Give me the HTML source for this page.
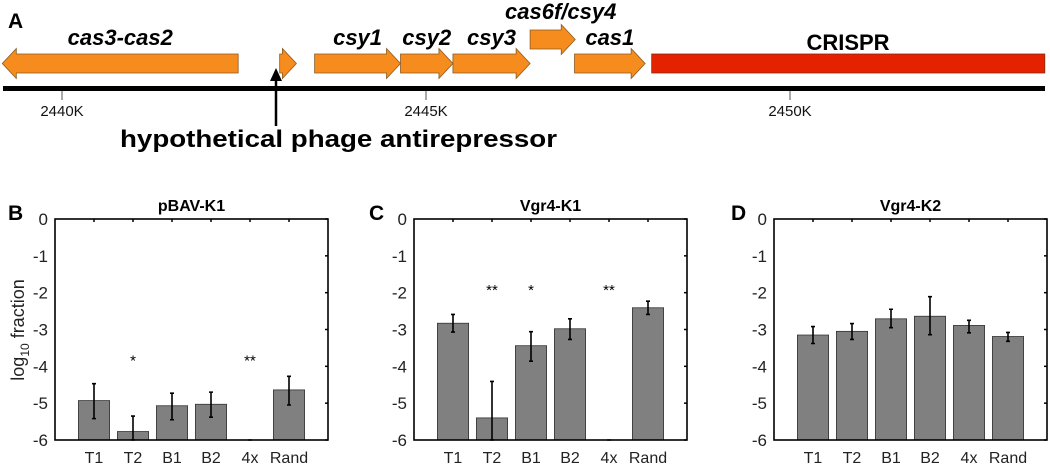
<!DOCTYPE html>
<html><head><meta charset="utf-8"><style>
html,body{margin:0;padding:0;background:#fff;}
svg{display:block;font-family:"Liberation Sans",Arial,sans-serif;}
</style></head><body>
<svg id="fig" width="1050" height="465" viewBox="0 0 1050 465" xmlns="http://www.w3.org/2000/svg">
<g id="panelA">
  <text x="8" y="28" font-size="21" font-weight="bold">A</text>
  <rect x="3" y="86" width="1042" height="5" fill="#000"/>
</g>
<g id="panelB"></g>
<g id="panelC"></g>
<g id="panelD"></g>
</svg>
<script>
// ---- Gene map data (kb positions) ----
const genomeTicks = [2440, 2445, 2450];
const geneNames = ["cas3-cas2", "", "csy1", "csy2", "csy3", "cas6f/csy4", "cas1"];
const geneStart = [2439.18, 2442.99, 2443.47, 2444.65, 2445.37, 2446.43, 2447.04];
const geneEnd   = [2442.42, 2443.22, 2444.65, 2445.37, 2446.43, 2447.05, 2448.01];
const geneStrand = [-1, 1, 1, 1, 1, 1, 1];
const geneRow = [0, 0, 0, 0, 0, 1, 0];
const crisprStart = 2448.1, crisprEnd = 2453.5;

// ---- Bar chart data ----
const categories = ["T1","T2","B1","B2","4x","Rand"];
const yTicks = [0,-1,-2,-3,-4,-5,-6];
const bVals = [-4.93,-5.77,-5.07,-5.03,-6,-4.64];
const bHi   = [-4.47,-5.35,-4.73,-4.70,-6,-4.27];
const bLo   = [-5.42,-6.00,-5.45,-5.38,-6,-5.05];
const bStars = ["","*","","","**",""];
const cVals = [-2.83,-5.40,-3.44,-2.98,-6,-2.41];
const cHi   = [-2.59,-4.41,-3.06,-2.71,-6,-2.23];
const cLo   = [-3.07,-6.00,-3.86,-3.27,-6,-2.59];
const cStars = ["","**","*","","**",""];
const dVals = [-3.15,-3.05,-2.71,-2.64,-2.89,-3.19];
const dHi   = [-2.92,-2.84,-2.45,-2.11,-2.75,-3.08];
const dLo   = [-3.38,-3.27,-2.95,-3.14,-3.09,-3.32];
const dStars = ["","","","","",""];

const NS = "http://www.w3.org/2000/svg";
function mk(tag, attrs, parent){const e=document.createElementNS(NS,tag);for(const k in attrs)e.setAttribute(k,attrs[k]);parent.appendChild(e);return e;}

// gene map
const A = document.getElementById('panelA');
const gx = k => 62 + (k-2440)*72.8;
genomeTicks.forEach(t=>{
  const l = mk('line',{x1:gx(t),x2:gx(t),y1:91,y2:100,stroke:'#555','stroke-width':1},A);
  
  
  const tx = mk('text',{x:gx(t),y:116,'font-size':15,'text-anchor':'middle',fill:'#111'},A);
  tx.textContent = t+'K';
  
  
});
geneNames.forEach((n,i)=>{
  const x0=gx(geneStart[i]), x1=gx(geneEnd[i]);
  const yc = geneRow[i]===0 ? 63.5 : 39.5;
  const bh = 9.5, hh = 15, hl = 14;
  let pts;
  if(geneStrand[i]>0){
    const b=x1-hl;
    pts=[[x0,yc-bh],[b,yc-bh],[b,yc-hh],[x1,yc],[b,yc+hh],[b,yc+bh],[x0,yc+bh]];
  } else {
    const b=x0+hl;
    pts=[[x1,yc-bh],[b,yc-bh],[b,yc-hh],[x0,yc],[b,yc+hh],[b,yc+bh],[x1,yc+bh]];
  }
  const p = mk('polygon',{points:pts.map(q=>q.join(',')).join(' '),fill:'#f78c1e',stroke:'#8a5a20','stroke-width':0.8},A);
  
  
  if(n){
    const lx = geneRow[i]===1 ? (x0+x1)/2+8 : (x0+x1)/2;
    const ly = geneRow[i]===1 ? 19 : 45;
    const t = mk('text',{x:lx,y:ly,'font-size':22,'font-weight':'bold','font-style':'italic','text-anchor':'middle'},A);
    t.textContent = n;
    
    
  }
});
const cr = mk('rect',{x:gx(crisprStart),y:54,width:gx(crisprEnd)-gx(crisprStart),height:19,fill:'#e52200',stroke:'#8a2a10','stroke-width':0.8},A);


const crt = mk('text',{x:848,y:50,'font-size':22,'font-weight':'bold','text-anchor':'middle'},A);
crt.textContent='CRISPR';


const ar = mk('line',{x1:276,x2:276,y1:126,y2:78,stroke:'#000','stroke-width':2.5},A);


const ah = mk('polygon',{points:'276,68 270,81 282,81',fill:'#000'},A);


const ht = mk('text',{x:120,y:147,'font-size':24,'font-weight':'bold',textLength:437,lengthAdjust:'spacingAndGlyphs'},A);
ht.textContent='hypothetical phage antirepressor';



// bar panels
function panel(g, left, letter, letterX, title, vals, hi, lo, stars, starY, ylabel){
  const W=273, top=219, bottom=440;
  const x = i => left + (i+1)*W/7;
  const y = v => top + (-v)*(bottom-top)/6;
  const bw = 0.8*W/7;
  const L = mk('text',{x:letterX,y:220,'font-size':21,'font-weight':'bold'},g);
  L.textContent=letter;
  
  
  const T = mk('text',{x:left+W/2,y:211,'font-size':16,'font-weight':'bold','text-anchor':'middle'},g);
  T.textContent=title;
  
  
  vals.forEach((v,i)=>{
    const r = mk('rect',{x:x(i)-bw/2,y:y(v),width:bw,height:y(-6)-y(v),fill:'#808080',stroke:'#333','stroke-width':0.8},g);
    
    
    const e = mk('path',{d:`M${x(i)},${y(hi[i])}V${y(lo[i])}M${x(i)-2},${y(hi[i])}H${x(i)+2}M${x(i)-2},${y(lo[i])}H${x(i)+2}`,stroke:'#000','stroke-width':1.6,fill:'none'},g);
    
    
    if(stars[i]){
      const s = mk('text',{x:x(i),y:y(starY)+8,'font-size':15,'text-anchor':'middle'},g);
      s.textContent=stars[i];
      
      
    }
    const lt = mk('text',{x:x(i),y:463,'font-size':16,'text-anchor':'middle',fill:'#222'},g);
    lt.textContent=categories[i];
    
    
    const tk = mk('path',{d:`M${x(i)},${top}v3`,stroke:'#000','stroke-width':1.5},g);
    
    
  });
  yTicks.forEach(t=>{
    const lt = mk('text',{x:left-7,y:y(t)+6,'font-size':17,'text-anchor':'end',fill:'#222'},g);
    lt.textContent = t;
    
    
    const tk = mk('path',{d:`M${left+W},${y(t)}h-3`,stroke:'#000','stroke-width':1.5},g);
    
    
  });
  const box = mk('rect',{x:left,y:top,width:W,height:bottom-top,fill:'none',stroke:'#000','stroke-width':1.6},g);
  
  
  if(ylabel){
    const yl = mk('text',{x:0,y:0,'font-size':18,'text-anchor':'middle',fill:'#222',transform:'translate(24,330) rotate(-90)'},g);
    yl.innerHTML = 'log<tspan font-size="12" dy="5">10</tspan><tspan dy="-5"> fraction</tspan>';
    
    
  }
}
panel(document.getElementById('panelB'),55,'B',8,'pBAV-K1',bVals,bHi,bLo,bStars,-3.76,true);
panel(document.getElementById('panelC'),414,'C',369,'Vgr4-K1',cVals,cHi,cLo,cStars,-1.85,false);
panel(document.getElementById('panelD'),774,'D',731,'Vgr4-K2',dVals,dHi,dLo,dStars,-2,false);
</script>
</body></html>
